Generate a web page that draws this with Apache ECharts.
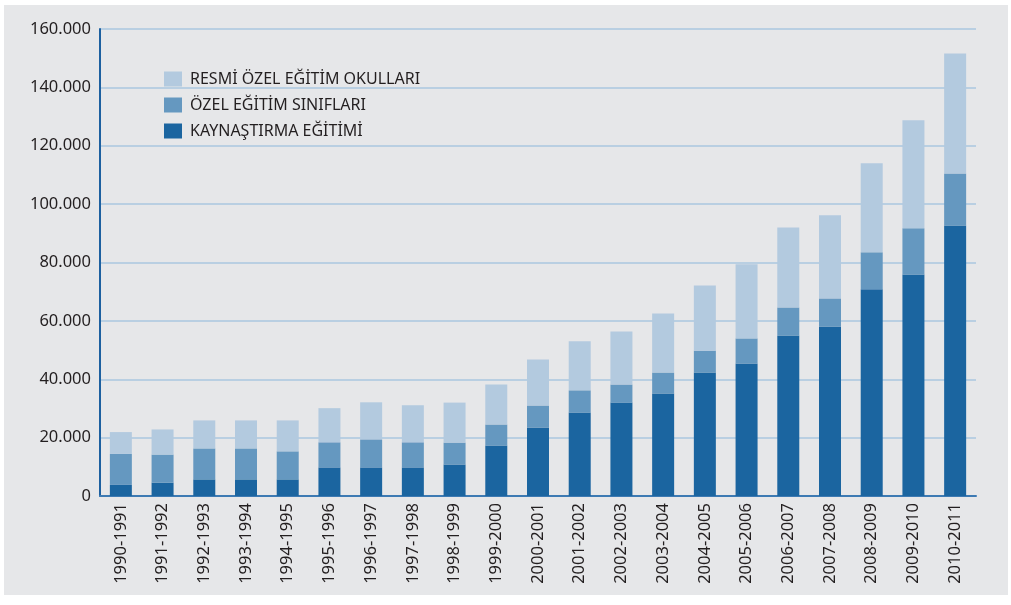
<!DOCTYPE html>
<html>
<head>
<meta charset="utf-8">
<script src="https://cdn.jsdelivr.net/npm/echarts@6/dist/echarts.min.js"></script>
<style>
  html, body { margin: 0; padding: 0; background: #ffffff; }
  #chart { position: absolute; left: 4px; top: 5px; width: 1004px; height: 590px; background: #e6e7e9; }
</style>
</head>
<body>
<div id="chart"></div>
<script>
  // öğretim yılları
  var years = ['1990-1991', '1991-1992', '1992-1993', '1993-1994', '1994-1995', '1995-1996', '1996-1997',
    '1997-1998', '1998-1999', '1999-2000', '2000-2001', '2001-2002', '2002-2003', '2003-2004',
    '2004-2005', '2005-2006', '2006-2007', '2007-2008', '2008-2009', '2009-2010', '2010-2011']

  // kaynaştırma eğitimi (alt, koyu mavi)
  var kaynastirma = [3800, 4600, 5700, 5700, 5700, 9800, 9800, 9800, 10800, 17300, 23500,
    28600, 32000, 35100, 42300, 45400, 55000, 58100, 70800, 75900, 92700]
  // özel eğitim sınıfları (orta)
  var ozelSiniflar = [10600, 9600, 10600, 10600, 9600, 8600, 9600, 8600, 7500, 7200, 7500,
    7600, 6200, 7200, 7500, 8600, 9600, 9600, 12700, 15800, 17800]
  // resmi özel eğitim okulları (üst, açık)
  var resmiOkullar = [7500, 8600, 9600, 9600, 10600, 11700, 12700, 12700, 13700, 13700, 15800,
    16800, 18200, 20200, 22300, 25400, 27400, 28500, 30500, 37000, 41100]

  var yTicks = [0, 20000, 40000, 60000, 80000, 100000, 120000, 140000, 160000]

  var chart = echarts.init(document.getElementById('chart'))

  var option = {
    animation: false,
    textStyle: { fontFamily: 'Noto Sans' },
    legend: {
      orient: 'vertical',
      left: 155,
      top: 61,
      itemWidth: 18,
      itemHeight: 15,
      itemGap: 10,
      icon: 'rect',
      textStyle: { fontSize: 16, color: '#231f20', padding: [0, 0, 0, 3] },
      data: ['RESMİ ÖZEL EĞİTİM OKULLARI', 'ÖZEL EĞİTİM SINIFLARI', 'KAYNAŞTIRMA EĞİTİMİ']
    },
    grid: { left: 96, right: 32, top: 24, bottom: 99 },
    xAxis: {
      type: 'category',
      data: years,
      axisLine: { lineStyle: { color: '#3d7ab3', width: 2 } },
      axisTick: { show: false },
      axisLabel: { rotate: 90, fontSize: 16.5, color: '#231f20', margin: 7, interval: 0 }
    },
    yAxis: {
      type: 'value',
      min: yTicks[0],
      max: yTicks[yTicks.length - 1],
      interval: yTicks[1] - yTicks[0],
      axisLine: { show: true, lineStyle: { color: '#1d60a0', width: 2 } },
      axisTick: { show: false },
      splitLine: { lineStyle: { color: '#b9cfe2', width: 2 } },
      axisLabel: {
        fontSize: 16.5, color: '#231f20', margin: 9,
        formatter: function (v) { return v === 0 ? '0' : String(v).replace(/\B(?=(\d{3})+(?!\d))/g, '.') }
      }
    },
    series: [
      {
        name: 'KAYNAŞTIRMA EĞİTİMİ', type: 'bar', stack: 'toplam', barWidth: 22,
        itemStyle: { color: '#1b65a0' }, data: kaynastirma
      },
      {
        name: 'ÖZEL EĞİTİM SINIFLARI', type: 'bar', stack: 'toplam', barWidth: 22,
        itemStyle: { color: '#6598c0' }, data: ozelSiniflar
      },
      {
        name: 'RESMİ ÖZEL EĞİTİM OKULLARI', type: 'bar', stack: 'toplam', barWidth: 22,
        itemStyle: { color: '#b3cadf' }, data: resmiOkullar
      }
    ]
  }

  chart.setOption(option)
</script>
</body>
</html>
